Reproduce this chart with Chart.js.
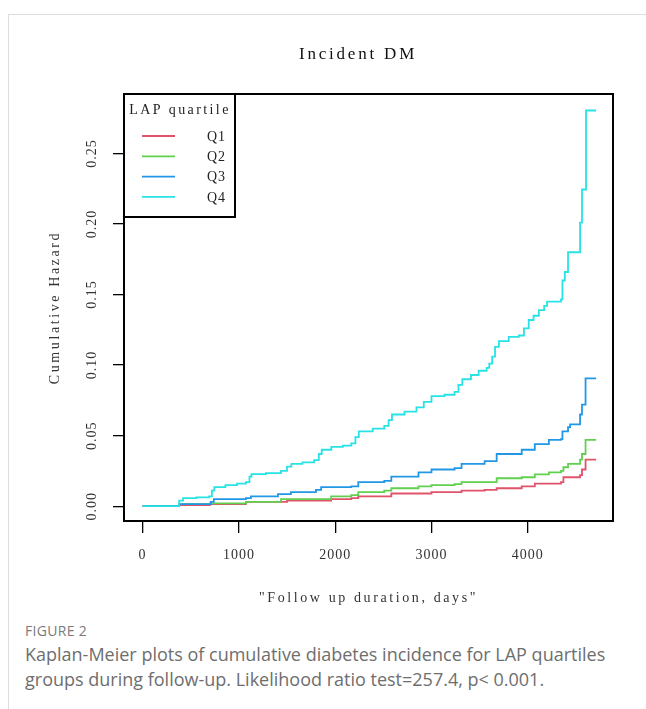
<!DOCTYPE html>
<html>
<head>
<meta charset="utf-8">
<script src="https://cdn.jsdelivr.net/npm/chart.js@4.4.1/dist/chart.umd.min.js"></script>
<style>
  body { margin: 0; background: #fff; width: 646px; height: 709px; overflow: hidden; position: relative; }
  #frame { position: absolute; left: 8px; top: 14px; right: 0; bottom: 0; border-top: 1px solid #ddd; border-left: 1px solid #ddd; }
  #wrap { position: absolute; left: 0; top: 0; width: 646px; height: 620px; }
  .cap { position: absolute; left: 25px; font-family: "Open Sans", sans-serif; color: #6e6e6e; }
</style>
</head>
<body>
<div id="frame"></div>
<div id="wrap"><canvas id="km" width="646" height="620"></canvas></div>
<div class="cap" style="top:621px;font-size:14px;color:#7a7a7a;letter-spacing:0.3px">FIGURE 2</div>
<div class="cap" style="top:642px;font-size:18px;line-height:25px">Kaplan-Meier plots of cumulative diabetes incidence for LAP quartiles<br>groups during follow-up. Likelihood ratio test=257.4, p&lt; 0.001.</div>
<script>
// values (days, cumulative hazard)
const groupLabels = ['Q1', 'Q2', 'Q3', 'Q4'];
const groupColors = ['#DF536B', '#61D04F', '#2297E6', '#28E2E5'];

const q1Days = [0, 340, 380, 700, 1073, 1500, 1958, 2167, 2240, 2583, 3000, 3312, 3552, 3677, 3937, 4073, 4345, 4370, 4543, 4563, 4600, 4710];
const q1Haz  = [0, 0, 0.0007, 0.0015, 0.003, 0.004, 0.005, 0.0057, 0.007, 0.009, 0.010, 0.011, 0.0115, 0.0127, 0.014, 0.016, 0.017, 0.0205, 0.022, 0.026, 0.033, 0.033];

const q2Days = [0, 340, 380, 700, 1073, 1437, 1958, 2167, 2240, 2510, 2583, 2865, 3000, 3240, 3312, 3552, 3677, 3937, 4073, 4219, 4345, 4370, 4418, 4543, 4563, 4600, 4710];
const q2Haz  = [0, 0, 0.0014, 0.002, 0.003, 0.005, 0.007, 0.0078, 0.010, 0.011, 0.0127, 0.014, 0.015, 0.0156, 0.017, 0.017, 0.0198, 0.0205, 0.0225, 0.024, 0.025, 0.0276, 0.030, 0.033, 0.037, 0.047, 0.047];

const q3Days = [0, 340, 380, 708, 740, 1073, 1125, 1406, 1540, 1800, 1854, 2167, 2240, 2510, 2583, 2865, 3000, 3240, 3312, 3552, 3677, 3937, 4073, 4219, 4345, 4360, 4418, 4440, 4543, 4563, 4600, 4710];
const q3Haz  = [0, 0, 0.0014, 0.003, 0.005, 0.0057, 0.007, 0.0085, 0.010, 0.0115, 0.0135, 0.014, 0.017, 0.018, 0.021, 0.024, 0.026, 0.027, 0.030, 0.032, 0.037, 0.040, 0.044, 0.047, 0.0475, 0.053, 0.056, 0.058, 0.065, 0.072, 0.0906, 0.0906];

const q4Days = [0, 330, 380, 420, 560, 690, 720, 745, 860, 980, 1073, 1110, 1130, 1280, 1437, 1500, 1545, 1660, 1781, 1830, 1860, 1960, 2080, 2167, 2210, 2245, 2390, 2510, 2555, 2590, 2720, 2844, 2920, 3000, 3135, 3240, 3280, 3320, 3410, 3490, 3573, 3600, 3630, 3660, 3700, 3802, 3906, 3960, 4010, 4060, 4115, 4170, 4200, 4345, 4360, 4385, 4418, 4543, 4563, 4605, 4710];
const q4Haz  = [0, 0, 0.004, 0.0057, 0.0062, 0.007, 0.011, 0.0135, 0.015, 0.016, 0.017, 0.021, 0.0227, 0.0235, 0.025, 0.028, 0.030, 0.031, 0.0326, 0.037, 0.040, 0.042, 0.043, 0.0445, 0.049, 0.053, 0.055, 0.057, 0.061, 0.065, 0.067, 0.070, 0.074, 0.078, 0.079, 0.081, 0.086, 0.090, 0.093, 0.096, 0.098, 0.101, 0.106, 0.113, 0.117, 0.120, 0.121, 0.126, 0.132, 0.135, 0.139, 0.142, 0.145, 0.1466, 0.160, 0.166, 0.180, 0.201, 0.2245, 0.2805, 0.2805];

const xTicks = [0, 1000, 2000, 3000, 4000];
const yTicks = [0, 0.05, 0.10, 0.15, 0.20, 0.25];

const chartTitle = 'Incident DM';
const xTitle = '"Follow up duration, days"';
const yTitle = 'Cumulative Hazard';
const legendTitle = 'LAP quartile';

const serif = '"Liberation Serif", serif';
const allDays = [q1Days, q2Days, q3Days, q4Days];
const allHaz = [q1Haz, q2Haz, q3Haz, q4Haz];

const datasets = groupLabels.map((label, i) => ({
  label: label,
  data: allDays[i].map((d, j) => ({ x: d, y: allHaz[i][j] })),
  borderColor: groupColors[i],
  borderWidth: 1.8,
  pointRadius: 0,
  fill: false,
  stepped: true,
  order: 3 - i
}));

const rPlot = {
  id: 'rPlot',
  beforeLayout(chart) { chart.ctx.letterSpacing = '1px'; },
  beforeDraw(chart) {
    chart.ctx.letterSpacing = '1px';
  },
  afterDraw(chart) {
    const { ctx, chartArea: a } = chart;
    ctx.save();
    // plot box
    ctx.strokeStyle = '#000';
    ctx.lineWidth = 2;
    ctx.strokeRect(a.left, a.top, a.right - a.left, a.bottom - a.top);

    ctx.fillStyle = '#111';
    ctx.textBaseline = 'middle';
    ctx.textAlign = 'center';

    // main title
    ctx.letterSpacing = '2.8px';
    ctx.font = '17px ' + serif;
    ctx.fillText(chartTitle, 358, 55);

    // axis titles
    ctx.fillStyle = '#333';
    ctx.letterSpacing = '2.6px';
    ctx.font = '14px ' + serif;
    ctx.fillText(xTitle, (a.left + a.right) / 2, 598);
    ctx.save();
    ctx.translate(55, (a.top + a.bottom) / 2);
    ctx.rotate(-Math.PI / 2);
    ctx.fillText(yTitle, 0, 0);
    ctx.restore();

    // legend box
    const lw = 111, lh = 123;
    ctx.fillStyle = '#fff';
    ctx.fillRect(a.left, a.top, lw, lh);
    ctx.strokeStyle = '#000';
    ctx.lineWidth = 2;
    ctx.strokeRect(a.left, a.top, lw, lh);
    ctx.fillStyle = '#222';
    ctx.letterSpacing = '2.4px';
    ctx.fillText(legendTitle, a.left + 56, a.top + 16);
    ctx.textAlign = 'right';
    ctx.letterSpacing = '1px';
    chart.data.datasets.forEach((ds, i) => {
      const y = a.top + 42 + i * 20.3;
      ctx.strokeStyle = ds.borderColor;
      ctx.lineWidth = 1.8;
      ctx.beginPath();
      ctx.moveTo(a.left + 18, y);
      ctx.lineTo(a.left + 51, y);
      ctx.stroke();
      ctx.fillText(ds.label, a.left + 102, y + 1);
    });
    ctx.restore();
  }
};

new Chart(document.getElementById('km'), {
  type: 'line',
  data: { datasets: datasets },
  plugins: [rPlot],
  options: {
    responsive: false,
    devicePixelRatio: 1,
    animation: false,
    layout: { padding: { top: 94, right: 33, left: 0, bottom: 0 } },
    plugins: { legend: { display: false }, tooltip: { enabled: false }, title: { display: false } },
    scales: {
      x: {
        type: 'linear',
        min: -193,
        max: 4885,
        afterBuildTicks: s => { s.ticks = xTicks.map(v => ({ value: v })); },
        afterFit: s => { s.height = 99; },
        grid: { drawOnChartArea: false, tickLength: 12, tickColor: '#000', lineWidth: 1.3 },
        border: { display: false },
        ticks: { color: '#333', font: { family: serif, size: 14 }, padding: 14, autoSkip: false, maxRotation: 0, callback: v => String(v) }
      },
      y: {
        type: 'linear',
        min: -0.0105,
        max: 0.2922,
        afterBuildTicks: s => { s.ticks = yTicks.map(v => ({ value: v })); },
        afterFit: s => { s.width = 124; },
        grid: { drawOnChartArea: false, tickLength: 11, tickColor: '#000', lineWidth: 1.3 },
        border: { display: false },
        ticks: { color: '#333', font: { family: serif, size: 14 }, padding: 6, autoSkip: false, minRotation: 90, maxRotation: 90, crossAlign: 'center', callback: v => v.toFixed(2) }
      }
    }
  }
});
</script>
</body>
</html>
